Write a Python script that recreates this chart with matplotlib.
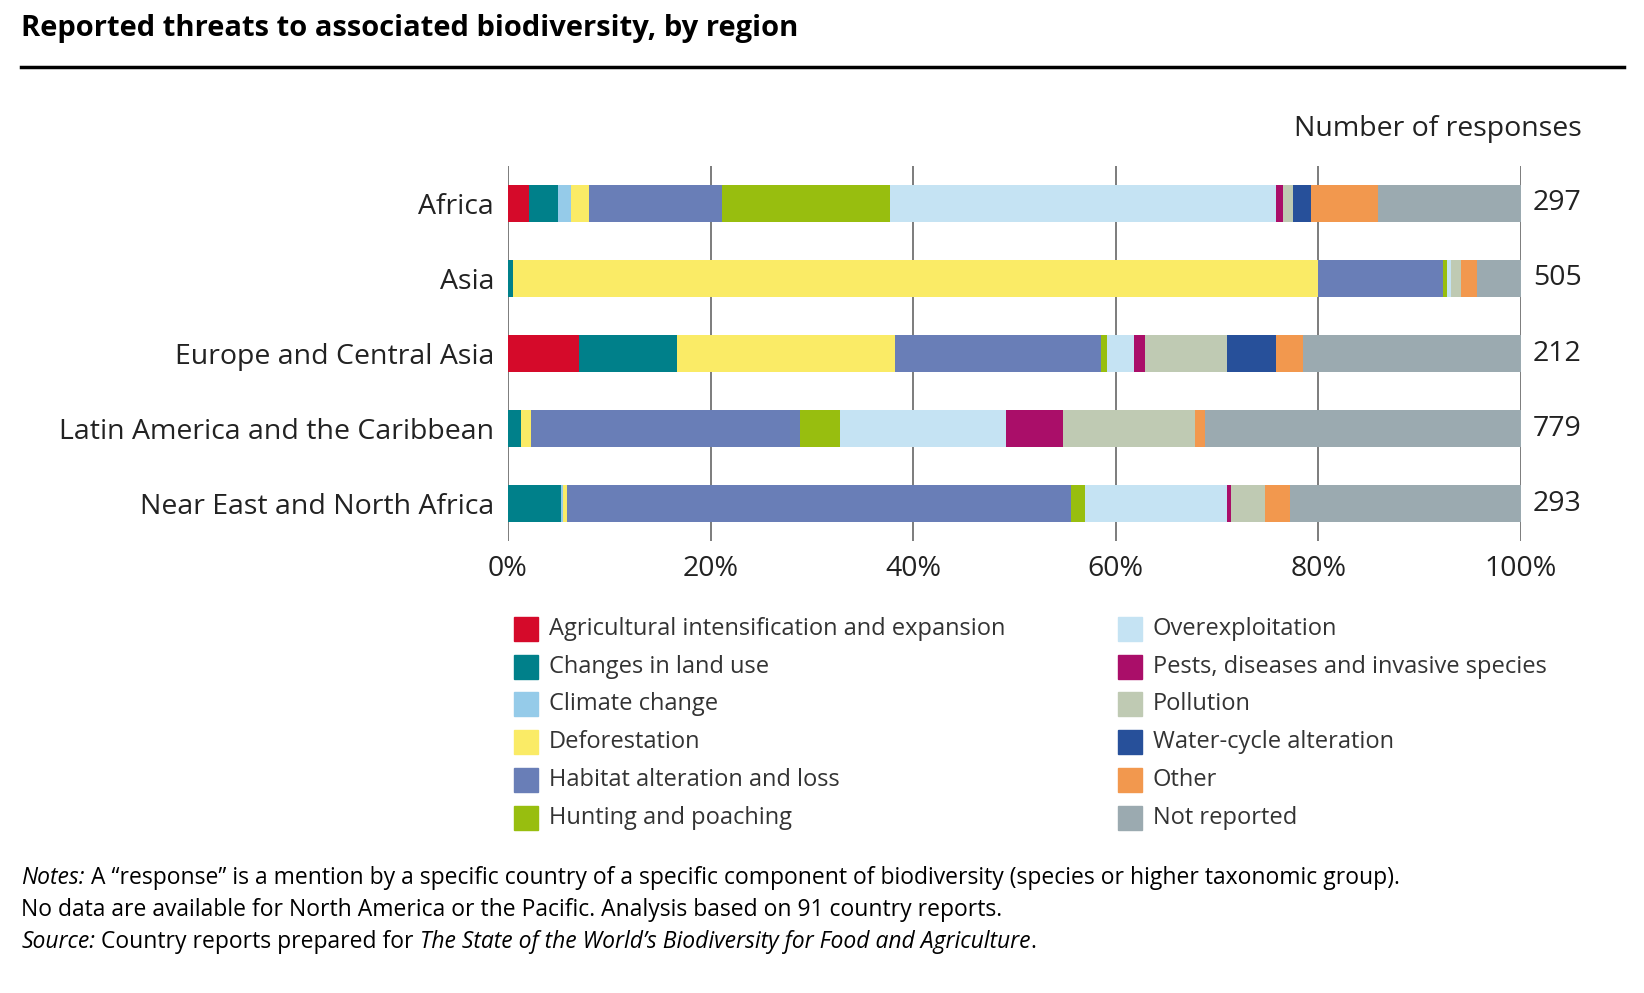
import matplotlib
matplotlib.use("Agg")
import matplotlib.pyplot as plt
import numpy as np

plt.rcParams['font.family'] = ['Open Sans', 'DejaVu Sans']

regions = ["Africa", "Asia", "Europe and Central Asia",
           "Latin America and the Caribbean", "Near East and North Africa"]
responses = [297, 505, 212, 779, 293]
categories = ["Agricultural intensification and expansion", "Changes in land use",
              "Climate change", "Deforestation", "Habitat alteration and loss",
              "Hunting and poaching", "Overexploitation",
              "Pests, diseases and invasive species", "Pollution",
              "Water-cycle alteration", "Other", "Not reported"]
colors = ["#D50A2A", "#00808A", "#95CBE9", "#FAEB66", "#697EB7", "#98BE0F",
          "#C5E3F3", "#AA0E69", "#BFCAB3", "#27509A", "#F2984E", "#9BAAB0"]
# percentage shares per region, in category order
africa = [2.1, 2.8, 1.3, 1.8, 13.1, 16.6, 38.1, 0.7, 1.0, 1.8, 6.6, 14.1]
asia = [0.0, 0.5, 0.0, 79.5, 12.3, 0.4, 0.4, 0.0, 1.0, 0.0, 1.6, 4.3]
europe = [7.0, 9.7, 0.0, 21.5, 20.4, 0.5, 2.7, 1.1, 8.1, 4.8, 2.7, 21.5]
latam = [0.0, 1.3, 0.0, 1.0, 26.5, 4.0, 16.4, 5.6, 13.0, 0.0, 1.0, 31.2]
nena = [0.0, 5.2, 0.2, 0.4, 49.8, 1.4, 14.0, 0.4, 3.4, 0.0, 2.4, 22.8]
data = np.array([africa, asia, europe, latam, nena])

fig = plt.figure(figsize=(16.44, 9.93), dpi=100)
ax = fig.add_axes([0.309, 0.455, 0.616, 0.378])
y = np.arange(len(regions))
left = np.zeros(len(regions))
for j in range(len(categories)):
    ax.barh(y, data[:, j], left=left, height=0.5, color=colors[j], zorder=3)
    left += data[:, j]
ax.set_ylim(len(regions) - 0.5, -0.5)
ax.set_xlim(0, 100)
ax.set_xticks([0, 20, 40, 60, 80, 100])
ax.set_xticklabels(["0%", "20%", "40%", "60%", "80%", "100%"], fontsize=20.5, color="#222222")
ax.set_yticks(y)
ax.set_yticklabels(regions, fontsize=20.5, color="#222222")
ax.tick_params(length=0, pad=10)
ax.xaxis.grid(True, color="#666666", linewidth=1.2, zorder=0)
for s in ax.spines.values():
    s.set_visible(False)
for i, n in enumerate(responses):
    ax.text(101.2, i, str(n), va="center", ha="left", fontsize=20.5, color="#222222")
ax.text(1.06, 1.06, "Number of responses", transform=ax.transAxes,
        ha="right", va="bottom", fontsize=20.5, color="#222222")

fig.text(0.013, 0.971, "Reported threats to associated biodiversity, by region",
         fontsize=21, fontweight="bold", va="center", ha="left")
fig.add_artist(plt.Line2D([0.013, 0.988], [0.933, 0.933], color="black", linewidth=2.5))

# legend
rows_y = [629, 667, 704, 742, 780, 818]
for k, (cat, col) in enumerate(zip(categories, colors)):
    c = k // 6
    r = k % 6
    xs = 514 if c == 0 else 1118
    yy = 1 - rows_y[r] / 993
    fig.add_artist(matplotlib.patches.Rectangle((xs / 1644, yy - 0.012), 24 / 1644, 0.024,
                                                color=col, transform=fig.transFigure))
    fig.text((xs + 35) / 1644, yy, cat, fontsize=17, va="center", ha="left", color="#333333")

fs = 16.5
fig.canvas.draw()


def chain(parts, ypix):
    x = 0.013
    for txt, ital in parts:
        t = fig.text(x, 1 - ypix / 993, txt, fontsize=fs, va="center",
                     style="italic" if ital else "normal")
        fig.canvas.draw()
        x = t.get_window_extent().x1 / 1644


chain([("Notes:", True),
       (" A \u201cresponse\u201d is a mention by a specific country of a specific component of biodiversity (species or higher taxonomic group).", False)], 878)
chain([("No data are available for North America or the Pacific. Analysis based on 91 country reports.", False)], 910)
chain([("Source:", True), (" Country reports prepared for ", False),
       ("The State of the World\u2019s Biodiversity for Food and Agriculture", True), (".", False)], 942)

fig.savefig("out.png", dpi=100)
